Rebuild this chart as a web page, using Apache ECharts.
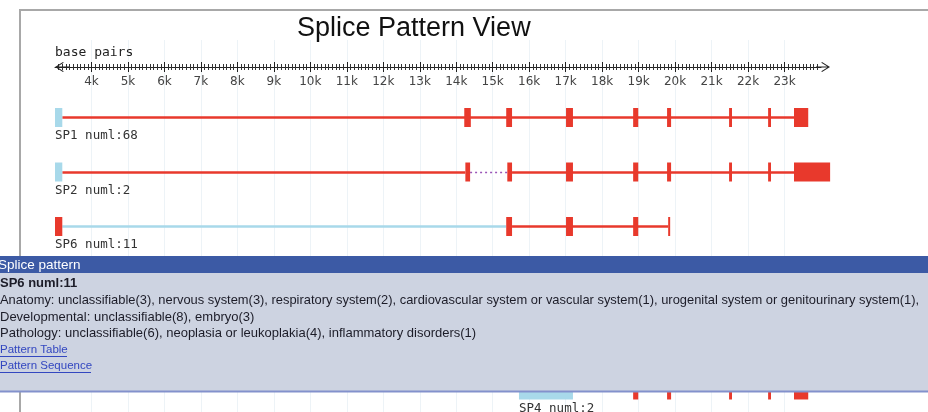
<!DOCTYPE html>
<html>
<head>
<meta charset="utf-8">
<script src="https://cdn.jsdelivr.net/npm/echarts@6.0.0/dist/echarts.min.js"></script>
<style>
  html, body { margin: 0; padding: 0; background: #fff; }
  #chart { width: 928px; height: 412px; }
</style>
</head>
<body>
<div id="chart"></div>
<script>
// splice pattern rows: label, row slot (rows 3 and 4 sit under the popup)
const rowLabels = ['SP1 numl:68', 'SP2 numl:2', 'SP6 numl:11', 'SP4 numl:2'];
const rowSlots = [0, 1, 2, 5];

// exons: [start bp, end bp, kind]  kind 0 = non-coding (blue), 1 = coding (red)
const sp1Exons = [[3000, 3200, 0], [14220, 14400, 1], [15370, 15530, 1], [17010, 17200, 1], [18850, 18990, 1],
  [19780, 19890, 1], [21480, 21560, 1], [22550, 22630, 1], [23260, 23650, 1]];
const sp2Exons = [[3000, 3200, 0], [14250, 14380, 1], [15400, 15530, 1], [17010, 17200, 1], [18850, 18990, 1],
  [19780, 19890, 1], [21480, 21560, 1], [22550, 22630, 1], [23260, 24250, 1]];
const sp6Exons = [[3000, 3200, 1], [15370, 15530, 1], [17010, 17200, 1], [18850, 18990, 1], [19810, 19860, 1]];
const sp4Exons = [[15720, 17200, 0], [18850, 18990, 1], [19780, 19890, 1], [21480, 21560, 1], [22550, 22630, 1],
  [23260, 23650, 1]];

// introns: [start bp, end bp, kind]  kind 0 = red solid, 1 = dotted (skipped), 2 = light blue
const sp1Introns = [[3200, 23260, 0]];
const sp2Introns = [[3200, 14250, 0], [14380, 15400, 1], [15530, 23260, 0]];
const sp6Introns = [[3200, 15370, 2], [15530, 19810, 0]];
const sp4Introns = [[17200, 23260, 0]];

// axis ruler
const tickValues = [4000, 5000, 6000, 7000, 8000, 9000, 10000, 11000, 12000, 13000, 14000, 15000, 16000,
  17000, 18000, 19000, 20000, 21000, 22000, 23000];

const allExons = [sp1Exons, sp2Exons, sp6Exons, sp4Exons];
const allIntrons = [sp1Introns, sp2Introns, sp6Introns, sp4Introns];

const exonData = [];
const intronData = [];
const labelData = [];
allExons.forEach((list, i) => {
  list.forEach(e => exonData.push([rowSlots[i], e[0], e[1], e[2]]));
  labelData.push([rowSlots[i], list[0][0], i]);
});
allIntrons.forEach((list, i) => {
  list.forEach(e => intronData.push([rowSlots[i], e[0], e[1], e[2]]));
});

const RED = '#e8392c';
const BLUE = '#a8d9ea';
const exonColors = [BLUE, RED];
const intronStyles = [
  { stroke: RED, lineWidth: 2.5 },
  { stroke: '#9a55b8', lineWidth: 1.5, lineDash: [2, 3] },
  { stroke: BLUE, lineWidth: 2.5 }
];

const chart = echarts.init(document.getElementById('chart'));

// chevron + shaft arrow pointing up (rotated by the axis)
const arrowPath = 'path://M5,0 L10,8 L9.2,8.7 L5,1.8 L0.8,8.7 L0,8 Z M4.5,1 L5.5,1 L5.5,14 L4.5,14 Z';

const axisBase = {
  type: 'value',
  gridIndex: 0,
  position: 'top',
  offset: -27,
  min: 3000,
  max: 24000,
  interval: 1000
};

const option = {
  animation: false,
  title: {
    text: 'Splice Pattern View',
    left: 292,
    top: 10,
    textStyle: { fontSize: 27, fontWeight: 'normal', color: '#111', fontFamily: 'Liberation Sans, Arial, sans-serif' }
  },
  grid: { left: 55, right: 107, top: 40, bottom: 0 },
  xAxis: [
    Object.assign({}, axisBase, {
      axisLine: {
        show: true,
        onZero: false,
        lineStyle: { color: '#222', width: 1 },
        symbol: [arrowPath, arrowPath],
        symbolSize: [10, 14],
        symbolOffset: [7, 2]
      },
      axisTick: { show: true, inside: false, length: 5, customValues: tickValues, lineStyle: { color: '#222' } },
      minorTick: { show: true, splitNumber: 10, length: 3, lineStyle: { color: '#333' } },
      axisLabel: { show: false },
      splitLine: { show: true, lineStyle: { color: '#edf3f7', width: 1 } }
    }),
    Object.assign({}, axisBase, {
      axisLine: { show: false, onZero: false },
      axisTick: { show: true, inside: true, length: 5, customValues: tickValues, lineStyle: { color: '#222' } },
      minorTick: { show: true, splitNumber: 10, length: 3, lineStyle: { color: '#333' } },
      axisLabel: {
        show: true, inside: true, margin: 9, customValues: tickValues,
        fontSize: 12, color: '#444', fontFamily: 'DejaVu Sans, sans-serif',
        formatter: v => (v / 1000) + 'k'
      },
      splitLine: { show: false }
    })
  ],
  yAxis: { type: 'value', inverse: true, min: -1.413, max: 5.413, show: false },
  series: [
    {
      // intron connectors
      type: 'custom',
      xAxisIndex: 0,
      data: intronData,
      encode: { x: [1, 2], y: 0 },
      renderItem: (params, api) => {
        const a = api.coord([api.value(1), api.value(0)]);
        const b = api.coord([api.value(2), api.value(0)]);
        return {
          type: 'line',
          shape: { x1: a[0], y1: Math.round(a[1]) + 0.5, x2: b[0], y2: Math.round(a[1]) + 0.5 },
          style: intronStyles[api.value(3)]
        };
      }
    },
    {
      // exon blocks
      type: 'custom',
      xAxisIndex: 0,
      data: exonData,
      encode: { x: [1, 2], y: 0 },
      renderItem: (params, api) => {
        const a = api.coord([api.value(1), api.value(0)]);
        const b = api.coord([api.value(2), api.value(0)]);
        const w = Math.max(2, b[0] - a[0]);
        return {
          type: 'rect',
          shape: { x: a[0], y: a[1] - 9, width: w, height: 19 },
          style: { fill: exonColors[api.value(3)] }
        };
      }
    },
    {
      // pattern names under each row
      type: 'custom',
      xAxisIndex: 0,
      data: labelData,
      encode: { x: 1, y: 0 },
      renderItem: (params, api) => {
        const p = api.coord([api.value(1), api.value(0)]);
        return {
          type: 'text',
          style: {
            x: p[0], y: p[1] + 19,
            text: rowLabels[api.value(2)],
            fill: '#333',
            font: '12.5px "DejaVu Sans Mono", monospace',
            verticalAlign: 'middle'
          }
        };
      }
    }
  ],
  graphic: [
    {
      type: 'polyline', z: 50, silent: true,
      shape: { points: [[20, 412], [20, 10], [928, 10]] },
      style: { stroke: '#a8a8a8', lineWidth: 2, fill: null }
    },
    {
      type: 'text', left: 55, top: 46, z: 50,
      style: { text: 'base pairs', fill: '#222', font: '13px "DejaVu Sans Mono", monospace' }
    },
    // popup panel
    {
      type: 'group', z: 100,
      children: [
        { type: 'rect', shape: { x: 0, y: 256, width: 928, height: 136 }, style: { fill: '#cdd3e1' }, z: 100 },
        { type: 'rect', shape: { x: 0, y: 256, width: 928, height: 17 }, style: { fill: '#3c5aa5' }, z: 101 },
        { type: 'line', shape: { x1: 0, y1: 391.5, x2: 928, y2: 391.5 }, style: { stroke: '#8391cc', lineWidth: 2 }, z: 101 },
        { type: 'text', x: -2, y: 265, z: 102, style: { text: 'Splice pattern', fill: '#fff', font: '13.5px "Liberation Sans", Arial, sans-serif', verticalAlign: 'middle' } },
        { type: 'text', x: 0, y: 283, z: 102, style: { text: 'SP6 numl:11', fill: '#1c1c28', font: 'bold 13px "Liberation Sans", Arial, sans-serif', verticalAlign: 'middle' } },
        { type: 'text', x: 0, y: 300.5, z: 102, style: { text: 'Anatomy: unclassifiable(3), nervous system(3), respiratory system(2), cardiovascular system or vascular system(1), urogenital system or genitourinary system(1),', fill: '#1c1c28', font: '12.9px "Liberation Sans", Arial, sans-serif', verticalAlign: 'middle' } },
        { type: 'text', x: 0, y: 317.5, z: 102, style: { text: 'Developmental: unclassifiable(8), embryo(3)', fill: '#1c1c28', font: '13px "Liberation Sans", Arial, sans-serif', verticalAlign: 'middle' } },
        { type: 'text', x: 0, y: 333.5, z: 102, style: { text: 'Pathology: unclassifiable(6), neoplasia or leukoplakia(4), inflammatory disorders(1)', fill: '#1c1c28', font: '13px "Liberation Sans", Arial, sans-serif', verticalAlign: 'middle' } },
        { type: 'text', x: 0, y: 350, z: 102, style: { text: 'Pattern Table', fill: '#3347c0', font: '11.5px "Liberation Sans", Arial, sans-serif', verticalAlign: 'middle' } },
        { type: 'line', shape: { x1: 0, y1: 356.5, x2: 67, y2: 356.5 }, style: { stroke: '#3347c0', lineWidth: 1 }, z: 102 },
        { type: 'text', x: 0, y: 366, z: 102, style: { text: 'Pattern Sequence', fill: '#3347c0', font: '11.5px "Liberation Sans", Arial, sans-serif', verticalAlign: 'middle' } },
        { type: 'line', shape: { x1: 0, y1: 372.5, x2: 91, y2: 372.5 }, style: { stroke: '#3347c0', lineWidth: 1 }, z: 102 }
      ]
    }
  ]
};

chart.setOption(option);
window.addEventListener('resize', () => chart.resize());
</script>
</body>
</html>
